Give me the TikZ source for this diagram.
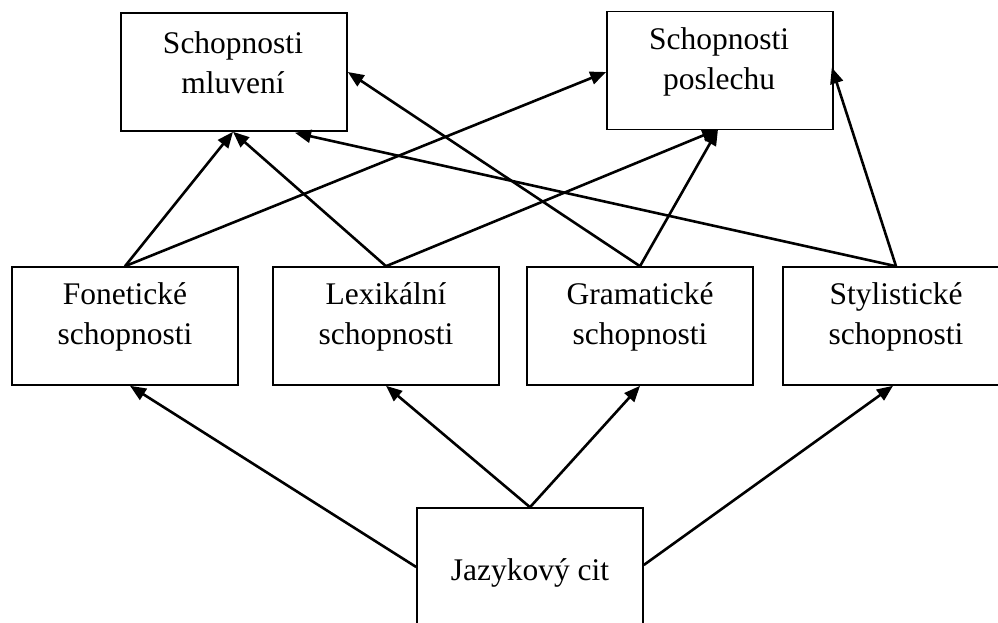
\documentclass[tikz,border=0pt]{standalone}
\usepackage{fontspec}
\setmainfont{Liberation Serif}
\usetikzlibrary{arrows.meta,calc}
\begin{document}
\begin{tikzpicture}[x=1pt,y=-1pt,
  box/.style={draw, line width=1.6pt, minimum width=226pt, minimum height=118pt, inner sep=0pt},
  lbl/.style={align=center, font=\fontsize{31.5}{40}\selectfont, inner sep=0pt},
  arr/.style={-{Triangle[length=16pt,width=13pt]}, line width=2.6pt}]
\useasboundingbox (0,0) rectangle (998,622);
\clip (0,0) rectangle (998,622);
% boxes
\node[box] (mlu) at (234,72) {};
\node[box] (pos) at (720,70.5) {};
\node[box] (fon) at (125,326) {};
\node[box] (lex) at (386,326) {};
\node[box] (gra) at (640,326) {};
\node[box] (sty) at (896,326) {};
\node[box, minimum height=132pt] (jaz) at (530,574) {};
% texts
\node[lbl] (mlut) at (233,63) {Schopnosti\\mluvení};
\node[lbl] (post) at (719,62) {Schopnosti\\poslechu};
\node[lbl] (font) at (125,317) {Fonetické\\schopnosti};
\node[lbl] (lext) at (386,317) {Lexikální\\schopnosti};
\node[lbl] (grat) at (640,317) {Gramatické\\schopnosti};
\node[lbl] (styt) at (896,317) {Stylistické\\schopnosti};
\node[lbl] (jazt) at (530,573) {Jazykový cit};
% connectors upward to the top boxes
\draw[arr] (fon.north) -- ($(mlu.south)+(-1,0)$);
\draw[arr] (lex.north) -- ($(mlu.south)+(-1,0)$);
\draw[arr] (fon.north) -- ($(pos.west)+(0,1.5)$);
\draw[arr] (lex.north) -- ($(pos.south)+(-2,-1)$);
\draw[arr] (gra.north) -- ($(pos.south)+(-2,-1)$);
\draw[arr] (gra.north) -- (mlu.east);
\draw[arr] (sty.north) -- ($(mlu.south)+(61,1)$);
\draw[arr] (sty.north) -- ($(pos.east)+(-2,-3)$);
% connectors from the bottom box
\draw[arr] (jaz.north) -- (lex.south);
\draw[arr] (jaz.north) -- (gra.south);
\draw[arr] ($(jaz.west)+(0,-7)$) -- ($(fon.south)+(5,0)$);
\draw[arr] ($(jaz.east)+(0,-9)$) -- ($(sty.south)+(-3,0)$);
\end{tikzpicture}
\end{document}
